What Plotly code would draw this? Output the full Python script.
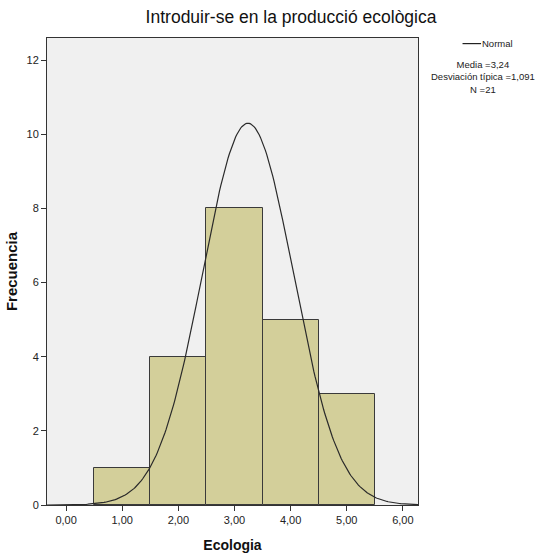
import numpy as np
import plotly.graph_objects as go

# histograma SPSS: Ecologia
centros = [1, 2, 3, 4, 5]
frecuencias = [1, 4, 8, 5, 3]
media = 3.24
desv_tipica = 1.091
n_total = 21
# la curva dibujada es mas estrecha que la desviacion indicada
curva_sd = 0.81
curva_pico = 10.3

xs = np.linspace(-0.34, 6.27, 300)
ys = curva_pico * np.exp(-0.5 * ((xs - media) / curva_sd) ** 2)

fig = go.Figure()
fig.add_trace(go.Bar(
    x=centros, y=frecuencias, width=1,
    marker=dict(color='#D3CF9A', line=dict(color='#3a3a3a', width=1)),
    showlegend=False, hoverinfo='skip'
))
fig.add_trace(go.Scatter(
    x=xs, y=ys, mode='lines',
    line=dict(color='#2a2a2a', width=1.2),
    showlegend=False, hoverinfo='skip'
))

fig.update_layout(
    width=539, height=556,
    margin=dict(l=47, r=121, t=38, b=51, autoexpand=False),
    paper_bgcolor='white', plot_bgcolor='#F0F0F0',
    font=dict(family='Liberation Sans, Arial', color='#222', size=11),
    title=dict(text='Introduir-se en la producció ecològica', x=0.54, xanchor='center',
               y=0.969, yanchor='middle',
               font=dict(size=17.5, color='#111')),
    bargap=0,
    xaxis=dict(range=[-0.34, 6.27], tickvals=[0, 1, 2, 3, 4, 5, 6],
               ticktext=['0,00', '1,00', '2,00', '3,00', '4,00', '5,00', '6,00'],
               ticks='outside', ticklen=5, tickcolor='#333',
               showline=True, linecolor='#333', mirror=True, showgrid=False, zeroline=False,
               title=dict(text='<b>Ecologia</b>', font=dict(size=14, color='#111'), standoff=14)),
    yaxis=dict(range=[0, 12.6], tickvals=[0, 2, 4, 6, 8, 10, 12],
               ticks='outside', ticklen=5, tickcolor='#333',
               showline=True, linecolor='#333', mirror=True, showgrid=False, zeroline=False,
               title=dict(text='<b>Frecuencia</b>', font=dict(size=15, color='#111'), standoff=5)),
)

# leyenda estilo SPSS
fig.add_shape(type='line', xref='paper', yref='paper', x0=1.12, x1=1.17, y0=0.988, y1=0.988,
              line=dict(color='#222', width=1.2))
fig.add_annotation(xref='paper', yref='paper', x=1.168, y=0.988, xanchor='left', yanchor='middle',
                   text='Normal', showarrow=False, font=dict(size=9.5))
fig.add_annotation(xref='paper', yref='paper', x=1.175, y=0.96, xanchor='center', yanchor='top',
                   text='Media =3,24<br>Desviación típica =1,091<br>N =21', showarrow=False,
                   font=dict(size=9.5), align='center')

fig.write_html('out.html', config={'displayModeBar': False},
               post_script="document.body.style.margin='0';")
